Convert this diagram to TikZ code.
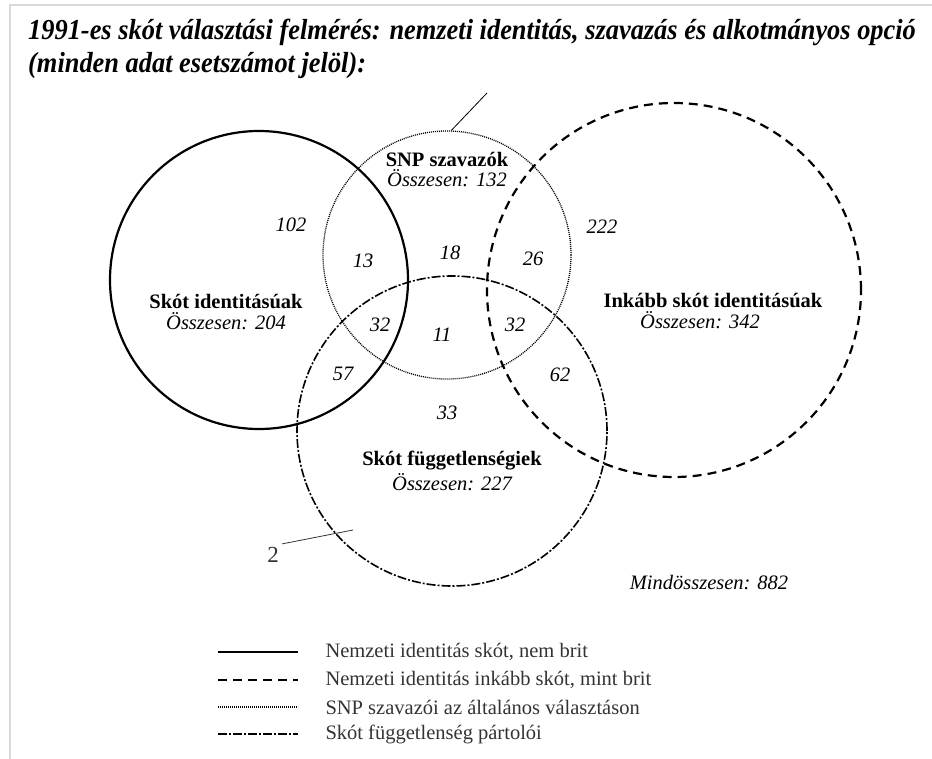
\documentclass[tikz,border=0pt]{standalone}
\usepackage{fontspec}
\setmainfont{Liberation Serif}
\usetikzlibrary{positioning}

\tikzset{
    idline/.style={line width=2.2bp},
    moreline/.style={line width=2.2bp, dash pattern=on 9bp off 6bp},
    snpline/.style={line width=1.3bp, dash pattern=on 1bp off 1bp},
    indline/.style={line width=1.6bp, dash pattern=on 9bp off 2bp on 2bp off 2bp},
    ring/.style={circle, inner sep=0pt, minimum size=#1},
    grp/.style={font=\fontsize{20.5bp}{24bp}\selectfont\bfseries, inner sep=1bp},
    total/.style={font=\fontsize{20.5bp}{24bp}\selectfont\itshape, inner sep=1bp},
    num/.style={font=\fontsize{20.5bp}{24bp}\selectfont\itshape},
    legtext/.style={font=\fontsize{20.5bp}{24bp}\selectfont, text=black!80, anchor=west},
    heading/.style={font=\fontsize{29bp}{34bp}\selectfont\bfseries\itshape, anchor=base west, inner sep=0pt},
}

\begin{document}
\begin{tikzpicture}[x=1bp, y=-1bp]
\useasboundingbox (0,0) rectangle (932,759);
\draw[black!15, line width=1.5bp] (10,759) -- (10,5) -- (932,5);

% title
\node[heading] (title1) at (28,40) {\scalebox{0.91}[1]{1991-es skót választási felmérés: nemzeti identitás, szavazás és alkotmányos opció}};
\node[heading] (title2) at (28,73) {\scalebox{0.91}[1]{(minden adat esetszámot jelöl):}};

% the four sets
\node[ring=298bp, idline, draw] (idcirc) at (259,280) {};
\node[ring=248bp, snpline, draw] (snpcirc) at (447,255) {};
\node[ring=374bp, moreline, draw] (morecirc) at (674,290) {};
\node[ring=310bp, indline, draw] (indcirc) at (452,431) {};

% set names
\node[grp] (idname) at (226,302) {Skót identitásúak};
\node[total, below=1bp of idname] (idtotal) {Összesen: 204};
\node[grp] (snpname) at (447,159) {SNP szavazók};
\node[total, below=1bp of snpname] (snptotal) {Összesen: 132};
\node[grp] (morename) at (713,301) {Inkább skót identitásúak};
\node[total, below=1bp of morename, xshift=-13bp] (moretotal) {Összesen: 342};
\node[grp] (indname) at (452,461) {Skót függetlenségiek};
\node[total, below=1bp of indname] (indtotal) {Összesen: 227};

% counts
\foreach \x/\y/\n in {291/225/102, 363/261/13, 450/253/18, 533/259/26, 602/227/222,
                      380/325/32, 442/335/11, 515/325/32, 343/374/57, 560/375/62, 447/413/33}
    \node[num] at (\x,\y) {\n};

\node[total] (grand) at (709,583) {Mindösszesen: 882};

% leader lines
\coordinate (lead1) at (487,93);
\draw[line width=0.8bp] (snpcirc.88) -- (lead1);
\node[font=\fontsize{23bp}{26bp}\selectfont, text=black!80] (two) at (273,555) {2};
\coordinate (lead2) at (353,530);
\draw[line width=0.8bp, black!80] (two.north east) -- (lead2);

% legend
\foreach \y/\st/\txt in {652/idline/{Nemzeti identitás skót, nem brit},
                         680/moreline/{Nemzeti identitás inkább skót, mint brit},
                         707/snpline/{SNP szavazói az általános választáson},
                         734/indline/{Skót függetlenség pártolói}} {
    \draw[\st] (218,\y) -- (298,\y);
    \node[legtext] (leg\y) at (322,\y) {\txt};
}
\end{tikzpicture}
\end{document}
